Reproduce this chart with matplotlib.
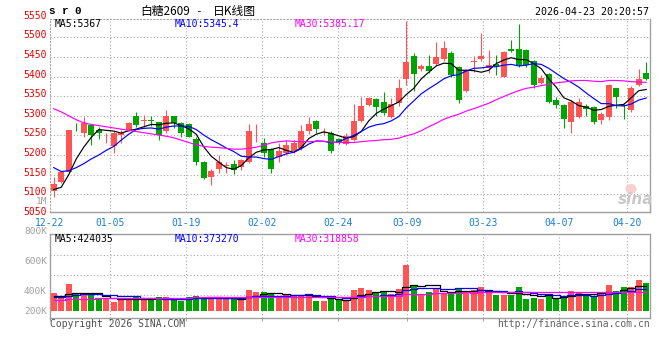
import numpy as np
import matplotlib
matplotlib.use("Agg")
import matplotlib.pyplot as plt
from matplotlib.patches import Ellipse
from matplotlib.transforms import blended_transform_factory, offset_copy

# ---------------- data ----------------
date_labels = ['12-22', '01-05', '01-19', '02-02', '02-24', '03-09', '03-23', '04-07', '04-20']
date_label_idx = [0, 8, 18, 28, 38, 47, 57, 67, 76]

opens = [5109, 5132, 5158, 5272, 5257, 5277, 5264, 5255, 5223, 5251,
         5264, 5299, 5287, 5289, 5283, 5260, 5300, 5281, 5279, 5240,
         5183, 5145, 5164, 5172, 5178, 5169, 5183, 5250, 5230, 5215,
         5196, 5204, 5211, 5217, 5261, 5288, 5256, 5257, 5240, 5227,
         5238, 5287, 5327, 5342, 5335, 5298, 5332, 5394, 5452, 5420,
         5427, 5432, 5444, 5461, 5425, 5364, 5438, 5444, 5421, 5432,
         5400, 5470, 5469, 5467, 5439, 5384, 5406, 5340, 5327, 5285,
         5298, 5326, 5322, 5290, 5298, 5370, 5328, 5315, 5378, 5410]
highs = [5145, 5160, 5265, 5281, 5298, 5280, 5272, 5257, 5260, 5264,
         5285, 5310, 5302, 5300, 5285, 5314, 5300, 5283, 5282, 5245,
         5186, 5165, 5200, 5183, 5187, 5190, 5280, 5280, 5243, 5218,
         5230, 5238, 5238, 5276, 5298, 5290, 5268, 5262, 5243, 5255,
         5330, 5348, 5349, 5345, 5361, 5345, 5393, 5542, 5459, 5432,
         5455, 5489, 5491, 5465, 5428, 5420, 5452, 5510, 5467, 5455,
         5466, 5493, 5534, 5470, 5442, 5404, 5408, 5349, 5330, 5340,
         5345, 5330, 5325, 5310, 5380, 5372, 5330, 5377, 5420, 5436]
lows = [5094, 5130, 5155, 5260, 5245, 5226, 5240, 5230, 5205, 5230,
        5262, 5272, 5272, 5274, 5238, 5255, 5268, 5245, 5245, 5175,
        5138, 5124, 5153, 5155, 5152, 5162, 5179, 5234, 5196, 5155,
        5183, 5200, 5205, 5212, 5253, 5257, 5251, 5206, 5227, 5225,
        5235, 5283, 5324, 5300, 5302, 5294, 5325, 5378, 5364, 5415,
        5410, 5430, 5440, 5398, 5332, 5360, 5412, 5440, 5408, 5404,
        5398, 5463, 5425, 5425, 5372, 5380, 5332, 5319, 5270, 5257,
        5295, 5300, 5280, 5280, 5290, 5320, 5291, 5310, 5376, 5390]
closes = [5126, 5158, 5264, 5271, 5282, 5251, 5257, 5256, 5257, 5257,
          5281, 5277, 5289, 5287, 5251, 5300, 5281, 5257, 5245, 5183,
          5141, 5160, 5183, 5175, 5162, 5187, 5260, 5252, 5206, 5164,
          5211, 5226, 5230, 5262, 5279, 5266, 5258, 5211, 5230, 5249,
          5287, 5325, 5345, 5322, 5308, 5330, 5370, 5438, 5406, 5427,
          5415, 5449, 5472, 5404, 5340, 5417, 5440, 5452, 5429, 5428,
          5463, 5466, 5429, 5429, 5378, 5397, 5336, 5327, 5293, 5336,
          5336, 5318, 5285, 5305, 5378, 5349, 5326, 5372, 5395, 5393]

ma5 = [5112, 5118, 5150, 5190, 5220, 5245, 5265, 5263, 5261, 5256,
       5262, 5266, 5272, 5278, 5277, 5281, 5282, 5275, 5267, 5253,
       5221, 5197, 5182, 5168, 5164, 5173, 5193, 5207, 5213, 5214,
       5219, 5212, 5207, 5219, 5242, 5253, 5259, 5255, 5249, 5243,
       5247, 5260, 5287, 5306, 5317, 5326, 5335, 5354, 5370, 5394,
       5411, 5427, 5434, 5433, 5416, 5416, 5415, 5411, 5416, 5433,
       5442, 5448, 5443, 5443, 5433, 5420, 5394, 5373, 5346, 5338,
       5326, 5322, 5314, 5316, 5324, 5327, 5329, 5346, 5364, 5367]
ma10 = [5168, 5158, 5160, 5168, 5178, 5190, 5200, 5212, 5222, 5238,
        5253, 5265, 5268, 5269, 5266, 5271, 5274, 5274, 5273, 5265,
        5251, 5239, 5229, 5218, 5209, 5197, 5195, 5195, 5191, 5189,
        5196, 5203, 5207, 5216, 5228, 5236, 5235, 5231, 5234, 5242,
        5250, 5260, 5271, 5277, 5280, 5287, 5298, 5320, 5338, 5356,
        5369, 5381, 5394, 5402, 5405, 5414, 5421, 5422, 5425, 5425,
        5429, 5431, 5427, 5429, 5433, 5431, 5421, 5408, 5395, 5385,
        5373, 5358, 5344, 5331, 5331, 5326, 5325, 5330, 5340, 5345.4]
ma30 = [5318, 5310, 5300, 5290, 5282, 5278, 5275, 5272, 5269, 5266,
        5263, 5260, 5257, 5254, 5251, 5248, 5244, 5238, 5232, 5226,
        5222, 5220, 5219, 5217, 5215, 5215, 5217, 5220, 5225, 5231,
        5234, 5236, 5235, 5234, 5234, 5235, 5235, 5233, 5232, 5232,
        5232, 5234, 5236, 5237, 5239, 5240, 5243, 5249, 5254, 5262,
        5272, 5281, 5291, 5298, 5304, 5312, 5318, 5325, 5332, 5341,
        5349, 5357, 5364, 5370, 5373, 5377, 5380, 5384, 5386, 5389,
        5390, 5390, 5388, 5387, 5390, 5390, 5389, 5387, 5386, 5385.17]

volumes = [301000, 221000, 454000, 296000, 267000, 279000, 211000, 199000, 143000, 199000,
           221000, 233000, 177000, 194000, 233000, 233000, 177000, 170000, 233000, 255000,
           233000, 233000, 199000, 199000, 199000, 199000, 357000, 318000, 318000, 279000,
           233000, 267000, 267000, 267000, 267000, 165000, 165000, 199000, 199000, 165000,
           352000, 391000, 352000, 296000, 313000, 284000, 369000, 777000, 420000, 284000,
           313000, 381000, 306000, 279000, 369000, 335000, 352000, 403000, 323000, 267000,
           267000, 267000, 403000, 199000, 221000, 199000, 279000, 199000, 250000, 335000,
           323000, 279000, 250000, 318000, 437000, 335000, 403000, 403000, 522000, 471000]

vol_ma5 = [250000, 255000, 280000, 300000, 307800, 303400, 301400, 250400, 219800, 206200,
           194600, 199000, 194600, 204800, 211600, 214000, 202800, 201400, 209200, 213600,
           213600, 224800, 230600, 223800, 212600, 205800, 230600, 254400, 278200, 294200,
           301000, 283000, 272800, 262600, 260200, 246600, 226200, 212600, 199000, 178600,
           216000, 261200, 291800, 311200, 340800, 327200, 322800, 407800, 432600, 426800,
           432600, 435000, 340800, 312600, 329600, 334000, 328200, 347600, 356400, 336000,
           322400, 305400, 305400, 280600, 271400, 257800, 260200, 219400, 229600, 252400,
           277200, 277200, 287400, 301000, 321400, 323800, 348600, 379200, 420000, 424035]
vol_ma10 = [235000, 240000, 255000, 270000, 280000, 283000, 280000, 272000, 262000, 257000,
            249000, 250200, 222500, 212300, 208900, 204300, 200900, 198000, 207000, 212600,
            213800, 213800, 216000, 216500, 213100, 209700, 227700, 242500, 251000, 253400,
            253400, 256800, 263600, 270400, 277200, 273800, 254600, 242700, 230800, 219400,
            231300, 243700, 252200, 255100, 259700, 271600, 292000, 349800, 371900, 383800,
            379900, 378900, 374300, 372600, 378200, 383300, 381600, 344200, 334500, 332800,
            328200, 316800, 326500, 318500, 303700, 290100, 282800, 262400, 255100, 261900,
            267500, 268700, 253400, 265300, 286900, 300500, 312900, 333300, 360500, 373270]
vol_ma30 = [185000, 190000, 195000, 200000, 204000, 207000, 210000, 212000, 214000, 215000,
            216000, 217000, 218000, 219000, 220000, 221000, 222000, 223000, 224000, 225000,
            226000, 227000, 228000, 229000, 230000, 232000, 235000, 237000, 239000, 241000,
            238700, 240300, 234000, 233100, 233100, 229300, 227700, 227700, 229600, 228500,
            232800, 238100, 243900, 247300, 250000, 251700, 258100, 278300, 284600, 285500,
            288200, 293100, 296700, 299400, 305000, 309600, 309400, 312200, 312400, 312000,
            313100, 313100, 317700, 315400, 313900, 315000, 318800, 318800, 320500, 326200,
            325200, 321500, 318100, 318800, 322900, 324600, 325800, 313300, 316700, 318858]

price_labels = [5550, 5500, 5450, 5400, 5350, 5300, 5250, 5200, 5150, 5100, 5050]
price_grid = [5100, 5150, 5200, 5250, 5300, 5350, 5400, 5450, 5500]
vol_labels = ['1M', '800K', '600K', '400K', '200K']

title_code = 's r 0'
title_name = '白糖2609'
title_kind = '日K线图'
timestamp = '2026-04-23 20:20:57'
ma_texts = ['MA5:5367', 'MA10:5345.4', 'MA30:5385.17']
vol_ma_texts = ['MA5:424035', 'MA10:373270', 'MA30:318858']

# ---------------- styling / layout ----------------
W, H = 660, 360
UP, DOWN = '#FF5454', '#00A400'
MA_COLORS = ['#000000', '#0000FF', '#FF00FF']
GRID = '#A8A8A8'
BORDER = '#A0A0A0'
MONO = 'DejaVu Sans Mono'
plt.rcParams['font.family'] = ['DejaVu Sans', 'Noto Sans CJK SC']

fig = plt.figure(figsize=(W / 100, H / 100), dpi=100)
fig.patch.set_facecolor('white')


def rect(l, t, r, b):
    return [l / W, 1 - b / H, (r - l) / W, (b - t) / H]


def fy(py):
    return 1 - py / H


ax = fig.add_axes(rect(49.6, 19, 650, 212))
axv = fig.add_axes(rect(49.6, 234, 650, 318.3), sharex=ax)

n = len(closes)
x = np.arange(n)
o = np.array(opens, float)
c = np.array(closes, float)
cols = [UP if cc >= oo else DOWN for oo, cc in zip(o, c)]

# price panel
ax.set_xlim(-0.55, n - 0.5)
ax.set_ylim(5054.9, 5546.6)
ax.vlines(x, lows, highs, colors=cols, linewidth=0.8, zorder=2)
body_b = np.minimum(o, c)
body_h = np.maximum(np.abs(c - o), 1.6)
ax.bar(x, body_h, bottom=body_b, width=0.76, color=cols, linewidth=0, zorder=3)
for series, col in zip([ma5, ma10, ma30], MA_COLORS):
    ax.plot(x, series, color=col, linewidth=0.85, zorder=4)

tick_pos = np.array(date_label_idx) * 76 / 75 - 0.55
ax.set_xticks(tick_pos)
ax.set_xticklabels(date_labels, fontfamily=MONO, fontsize=7, color='#1a7fd4')
ax.tick_params(axis='x', length=0, pad=4)
ax.set_yticks(price_grid)
ax.tick_params(axis='y', length=0, labelleft=False)
ax.grid(True, color=GRID, linestyle=(0, (1, 2)), linewidth=0.8)
ax.set_axisbelow(True)
for side in ['top', 'left']:
    ax.spines[side].set_color(GRID)
    ax.spines[side].set_linestyle((0, (1, 2)))
    ax.spines[side].set_linewidth(0.8)
for side in ['bottom', 'right']:
    ax.spines[side].set_color(BORDER)
    ax.spines[side].set_linewidth(1.0)

lab_tr = offset_copy(blended_transform_factory(fig.transFigure, ax.transData), fig=fig, y=2, units='dots')
for p in price_labels:
    ax.text(46.5 / W, p, str(p), transform=lab_tr, ha='right', va='center',
            fontfamily=MONO, fontsize=7, color='#E80000', clip_on=False)

# volume panel
BASE_PX, VOL_PER_PX = 310.7, 17000.0
axv.set_ylim((BASE_PX - 318.3) * VOL_PER_PX, (BASE_PX - 234) * VOL_PER_PX)
axv.bar(x, volumes, width=0.76, color=cols, linewidth=0, zorder=3)
for series, col in zip([vol_ma5, vol_ma10, vol_ma30], MA_COLORS):
    axv.plot(x, series, color=col, linewidth=0.9, drawstyle='steps-mid', zorder=4)
axv.set_yticks([(BASE_PX - gy) * VOL_PER_PX for gy in (255, 275, 295)])
axv.tick_params(axis='y', length=0, labelleft=False)
axv.tick_params(axis='x', labelbottom=False, length=2.5, color=GRID, direction='out')
axv.grid(True, color=GRID, linestyle=(0, (1, 2)), linewidth=0.8)
axv.set_axisbelow(True)
for side in axv.spines:
    axv.spines[side].set_color(BORDER)
    axv.spines[side].set_linewidth(1.0)

for lab, py in zip(vol_labels, [201.5, 231, 261, 291, 311]):
    fig.text(47 / W, fy(py), lab, ha='right', va='center', fontfamily=MONO,
             fontsize=6.8, color='#A0A0A0')

# legends
for txt, col, px in zip(ma_texts, MA_COLORS, [55, 175, 295]):
    fig.text(px / W, fy(24), txt, ha='left', va='center', fontfamily=MONO, fontsize=7, color=col)
for txt, col, px in zip(vol_ma_texts, MA_COLORS, [55, 175, 295]):
    fig.text(px / W, fy(239), txt, ha='left', va='center', fontfamily=MONO, fontsize=7, color=col)

# header
fig.text(49 / W, fy(11.5), title_code, ha='left', va='center', fontfamily='Liberation Mono',
         fontweight='bold', fontsize=7.8, color='black')
fig.text(140 / W, fy(11), title_name, ha='left', va='center',
         fontfamily=['Noto Sans CJK SC', 'DejaVu Sans'], fontsize=8.5, color='black')
fig.text(198 / W, fy(11), '-', ha='center', va='center', fontfamily=MONO, fontsize=8, color='black')
fig.text(213 / W, fy(11), title_kind, ha='left', va='center',
         fontfamily=['Noto Sans CJK SC', 'DejaVu Sans'], fontsize=8.5, color='black')
fig.text(649 / W, fy(12), timestamp, ha='right', va='center', fontfamily=MONO, fontsize=7.2, color='black')

# footer
fig.text(50 / W, fy(324), 'Copyright 2026 SINA.COM', ha='left', va='center', fontfamily=MONO,
         fontsize=7, color='#505050')
fig.text(650 / W, fy(324), 'http://finance.sina.com.cn', ha='right', va='center', fontfamily=MONO,
         fontsize=7, color='#606060')

# watermark (logo eye as a shape, word as text)
fig.add_artist(Ellipse((631 / W, fy(189)), 11 / W, 10 / H, transform=fig.transFigure,
                       facecolor='#F6CFCF', edgecolor='none', zorder=5))
fig.text(636 / W, fy(199), 'sina', ha='center', va='center', fontsize=11, fontweight='bold',
         fontstyle='italic', color='#C8C8C8', zorder=6)

fig.savefig('out.png', dpi=100, facecolor='white')
